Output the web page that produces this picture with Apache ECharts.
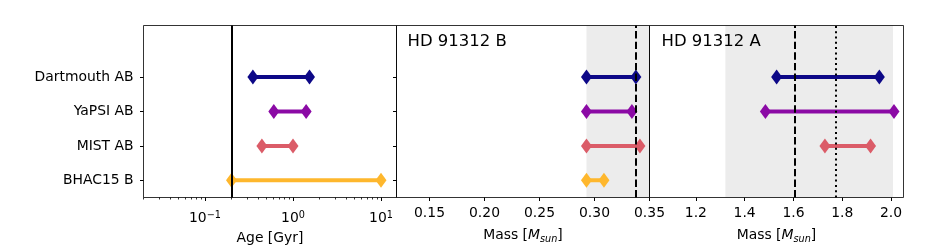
<!DOCTYPE html>
<html>
<head>
<meta charset="utf-8">
<script src="https://cdn.jsdelivr.net/npm/echarts@6/dist/echarts.min.js"></script>
<style>html,body{margin:0;padding:0;background:#fff}#c{width:950px;height:250px}</style>
</head>
<body>
<div id="c"></div>
<script>
// ---- data ----
const categories = ['BHAC15 B', 'MIST AB', 'YaPSI AB', 'Dartmouth AB']; // y index 0..3 (bottom to top)
const ageLow   = [0.2, 0.443, 0.605, 0.35];
const ageHigh  = [10, 1.0, 1.41, 1.54];
const massBLow  = [0.2927, 0.2927, 0.2927, 0.2927];
const massBHigh = [0.3086, 0.3413, 0.334, 0.3376];
const massALow  = [null, 1.729, 1.485, 1.531];
const massAHigh = [null, 1.916, 2.012, 1.952];
const ageRef = 0.2;
const massBBand = [0.2927, 0.35];
const massBDashed = 0.3376;
const massABand = [1.321, 2.008];
const massADashed = 1.607;
const massADotted = 1.775;
const ageTicks = [0.1, 1, 10];
const ageMinorTicks = [0.02,0.03,0.04,0.05,0.06,0.07,0.08,0.09,0.2,0.3,0.4,0.5,0.6,0.7,0.8,0.9,2,3,4,5,6,7,8,9];
const massBTicks = [0.15, 0.20, 0.25, 0.30, 0.35];
const massATicks = [1.2, 1.4, 1.6, 1.8, 2.0];
const yTicks = [0, 1, 2, 3];
const panelTitles = ['HD 91312 B', 'HD 91312 A'];

// ---- style ----
const colors = ['#feb72d', '#db5c68', '#8b0aa5', '#0d0887'];
const FONT = 'DejaVu Sans';
const FS = 13.9;

const chart = echarts.init(document.getElementById('c'), null, {renderer: 'canvas'});

const grids = [
  {left: 143.5, top: 25.5, width: 253, height: 172},
  {left: 396.5, top: 25.5, width: 253, height: 172},
  {left: 649.5, top: 25.5, width: 254, height: 172}
].map(g => Object.assign(g, {show: true, borderColor: '#000', borderWidth: 0.8, backgroundColor: 'transparent', z: 5, containLabel: false, outerBoundsMode: 'none'}));

const tickStyle = {lineStyle: {color: '#000', width: 1}};
const labelBase = {color: '#000', fontSize: FS, fontFamily: FONT};

const yAxes = [0, 1, 2].map(i => ({
  gridIndex: i, type: 'value', min: -0.5, max: 4.5, position: 'left',
  axisLine: {show: false, onZero: false}, splitLine: {show: false},
  axisTick: Object.assign({show: true, inside: false, length: 3.5, customValues: yTicks}, tickStyle),
  axisLabel: Object.assign({show: i === 0, customValues: yTicks, margin: 10, formatter: v => categories[v]}, labelBase)
}));

const massName = '{n|Mass [}{i|M}{s|sun}{n|]}';
const massNameStyle = {
  color: '#000', fontFamily: FONT, fontSize: FS,
  rich: {
    n: {fontSize: FS, fontFamily: FONT, color: '#000', lineHeight: 14, verticalAlign: 'middle'},
    i: {fontSize: FS, fontFamily: FONT, color: '#000', lineHeight: 14, verticalAlign: 'middle', fontStyle: 'italic'},
    s: {fontSize: 9.7, fontFamily: FONT, color: '#000', lineHeight: 18.7, verticalAlign: 'bottom', fontStyle: 'italic'}
  }
};

const xAxes = [
  {
    gridIndex: 0, type: 'log', logBase: 10, min: 0.02, max: 15, position: 'bottom',
    axisLine: {show: false, onZero: false}, splitLine: {show: false},
    axisTick: Object.assign({show: true, inside: false, length: 3.5, customValues: ageTicks}, tickStyle),
    axisLabel: Object.assign({customValues: ageTicks, margin: 12.5,
      formatter: v => '{b|10}{s|' + String(Math.round(Math.log10(v))).replace('-', '\u2212') + '}',
      rich: {
        b: {fontSize: FS, fontFamily: FONT, color: '#000', lineHeight: 16.3, verticalAlign: 'middle'},
        s: {fontSize: 9.7, fontFamily: FONT, color: '#000', lineHeight: 10, verticalAlign: 'top'}
      }}, labelBase),
    name: 'Age [Gyr]', nameLocation: 'middle', nameGap: 34,
    nameTextStyle: {color: '#000', fontFamily: FONT, fontSize: FS}
  },
  {
    gridIndex: 1, type: 'value', min: 0.12, max: 0.35, position: 'bottom',
    axisLine: {show: false, onZero: false}, splitLine: {show: false},
    axisTick: Object.assign({show: true, inside: false, length: 3.5, customValues: massBTicks}, tickStyle),
    axisLabel: Object.assign({customValues: massBTicks, margin: 8.5, formatter: v => v.toFixed(2)}, labelBase),
    name: massName, nameLocation: 'middle', nameGap: 28.3, nameTextStyle: massNameStyle
  },
  {
    gridIndex: 2, type: 'value', min: 1.01, max: 2.051, position: 'bottom',
    axisLine: {show: false, onZero: false}, splitLine: {show: false},
    axisTick: Object.assign({show: true, inside: false, length: 3.5, customValues: massATicks}, tickStyle),
    axisLabel: Object.assign({customValues: massATicks, margin: 8.5, formatter: v => v.toFixed(1)}, labelBase),
    name: massName, nameLocation: 'middle', nameGap: 28.3, nameTextStyle: massNameStyle
  },
  {
    gridIndex: 0, type: 'log', logBase: 10, min: 0.02, max: 15, position: 'bottom',
    axisLine: {show: false, onZero: false}, splitLine: {show: false},
    axisTick: {show: true, inside: false, length: 2, customValues: ageMinorTicks, lineStyle: {color: '#000', width: 0.8}},
    axisLabel: {show: false}
  }
];

function rangeSeries(lows, highs, xi, yi) {
  const out = [];
  for (let k = 0; k < categories.length; k++) {
    if (lows[k] == null || highs[k] == null) continue;
    out.push({
      type: 'line', xAxisIndex: xi, yAxisIndex: yi, z: 3,
      data: [[lows[k], k], [highs[k], k]],
      symbol: 'diamond', symbolSize: [11, 15], showSymbol: true,
      lineStyle: {color: colors[k], width: 4},
      itemStyle: {color: colors[k], borderWidth: 0},
      silent: true, animation: false
    });
  }
  return out;
}

function vline(xi, yi, value, type) {
  return {
    type: 'line', xAxisIndex: xi, yAxisIndex: yi, z: 2, data: [], silent: true, animation: false,
    markLine: {
      silent: true, animation: false, precision: 10, symbol: ['none', 'none'], label: {show: false},
      lineStyle: {color: '#000', width: 2, type: type}, emphasis: {disabled: true},
      data: [{xAxis: value}]
    }
  };
}

function band(xi, yi, range) {
  return {
    type: 'line', xAxisIndex: xi, yAxisIndex: yi, z: 1, data: [], silent: true, animation: false,
    markArea: {
      silent: true, animation: false, precision: 10, itemStyle: {color: '#ececec', opacity: 1}, label: {show: false},
      emphasis: {disabled: true},
      data: [[{xAxis: range[0]}, {xAxis: range[1]}]]
    }
  };
}

const series = [].concat(
  [vline(0, 0, ageRef, 'solid')],
  rangeSeries(ageLow, ageHigh, 0, 0),
  [band(1, 1, massBBand), vline(1, 1, massBDashed, [7.4, 3.2])],
  rangeSeries(massBLow, massBHigh, 1, 1),
  [band(2, 2, massABand), vline(2, 2, massADashed, [7.4, 3.2]), vline(2, 2, massADotted, [2, 3.3])],
  rangeSeries(massALow, massAHigh, 2, 2)
);

chart.setOption({
  animation: false,
  backgroundColor: '#fff',
  title: [
    {text: panelTitles[0], left: 407.5, top: 33, padding: 0, textStyle: {color: '#000', fontFamily: FONT, fontSize: 16.5, fontWeight: 'normal'}},
    {text: panelTitles[1], left: 661.5, top: 33, padding: 0, textStyle: {color: '#000', fontFamily: FONT, fontSize: 16.5, fontWeight: 'normal'}}
  ],
  grid: grids,
  xAxis: xAxes,
  yAxis: yAxes,
  series: series
});
</script>
</body>
</html>
